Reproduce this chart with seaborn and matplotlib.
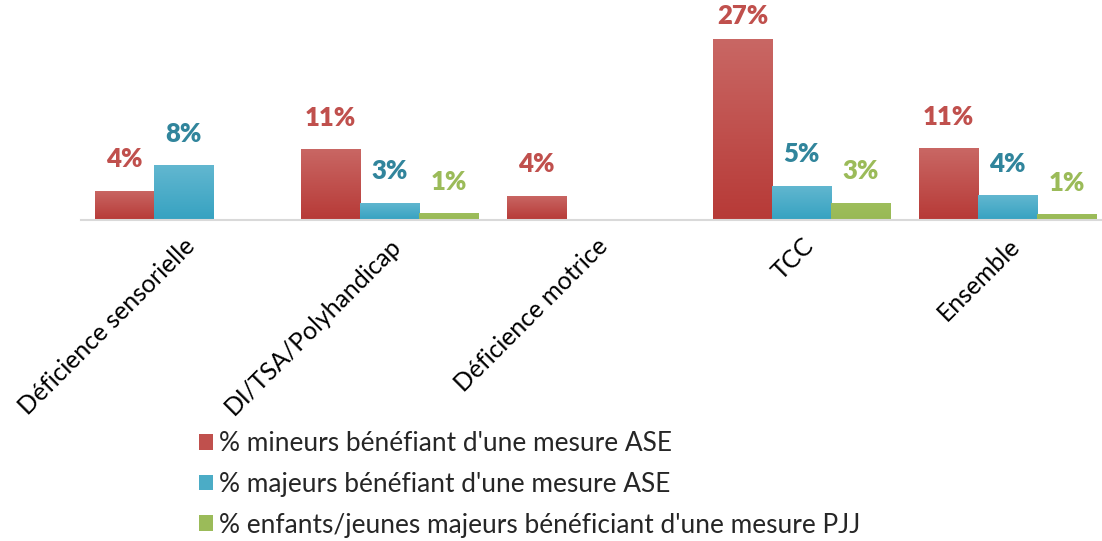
import matplotlib
matplotlib.use('Agg')
import matplotlib.pyplot as plt
import numpy as np
import pandas as pd
import seaborn as sns
from matplotlib.colors import LinearSegmentedColormap
from matplotlib.patches import Patch

categories = ['Déficience sensorielle', 'DI/TSA/Polyhandicap', 'Déficience motrice', 'TCC', 'Ensemble']
series = ["% mineurs bénéfiant d'une mesure ASE",
          "% majeurs bénéfiant d'une mesure ASE",
          "% enfants/jeunes majeurs bénéficiant d'une mesure PJJ"]
mineurs_ase = [4.4, 10.6, 3.6, 27.0, 10.7]
majeurs_ase = [8.2, 2.6, np.nan, 5.1, 3.7]
jeunes_pjj = [np.nan, 1.0, np.nan, 2.6, 0.9]

bar_colors = ['#C0504D', '#4BACC6', '#9BBB59']
bottom_colors = ['#B73A37', '#36A2C1', '#98B955']
top_colors = ['#C96764', '#62B7D0', '#9EBE5C']
label_colors = ['#C0504D', '#31859C', '#9BBB59']

df = pd.DataFrame({
    'categorie': categories * 3,
    'serie': np.repeat(series, len(categories)),
    'valeur': mineurs_ase + majeurs_ase + jeunes_pjj,
})

sns.set_theme(style='white')
plt.rcParams['font.family'] = ['Lato', 'DejaVu Sans']

fig = plt.figure(figsize=(11.02, 5.41), dpi=100)
ax = fig.add_axes([80.5 / 1102, 321 / 541, 1030 / 1102, 201 / 541])

sns.barplot(data=df, x='categorie', y='valeur', hue='serie', order=categories,
            hue_order=series, palette=bar_colors, saturation=1, width=0.86,
            linewidth=0, legend=False, ax=ax)

# gradient fill (lighter on top) clipped to each bar
for i, cont in enumerate(ax.containers):
    cmap = LinearSegmentedColormap.from_list('g%d' % i, [bottom_colors[i], top_colors[i]])
    grad = np.linspace(0, 1, 100).reshape(-1, 1)
    for p in cont.patches:
        h = p.get_height()
        if not np.isfinite(h) or h == 0:
            continue
        x0 = p.get_x()
        w = p.get_width()
        im = ax.imshow(grad, extent=[x0, x0 + w, 0, h], origin='lower', cmap=cmap,
                       aspect='auto', zorder=p.get_zorder() + 0.1)
        im.set_clip_path(p)
        pad = 8 if h > 25 else 14
        ax.annotate(f"{h:.0f}%", (x0 + w / 2, h), xytext=(0, pad), textcoords='offset points',
                    ha='center', va='bottom', fontsize=18.5, fontweight='heavy',
                    color=label_colors[i])

ax.set_xlim(-0.5, 4.5)
ax.set_ylim(0, 30)

ax.set_xlabel('')
ax.set_ylabel('')
ax.set_yticks([])
ax.tick_params(axis='x', length=0, pad=10)
plt.setp(ax.get_xticklabels(), rotation=45, ha='right', rotation_mode='anchor',
         fontsize=17.8, color='black')

sns.despine(ax=ax, left=True, top=True, right=True)
ax.spines['bottom'].set_color('#D9D9D9')
ax.spines['bottom'].set_linewidth(1.5)

handles = [Patch(facecolor=c, edgecolor='none') for c in bar_colors]
fig.legend(handles, series, loc='upper left', bbox_to_anchor=(199 / 1102, 1 - 431 / 541),
           frameon=False, fontsize=18.9, handlelength=0.55, handleheight=0.55,
           handletextpad=0.22, labelspacing=0.6, borderpad=0, borderaxespad=0)

fig.savefig('out.png', dpi=100)
